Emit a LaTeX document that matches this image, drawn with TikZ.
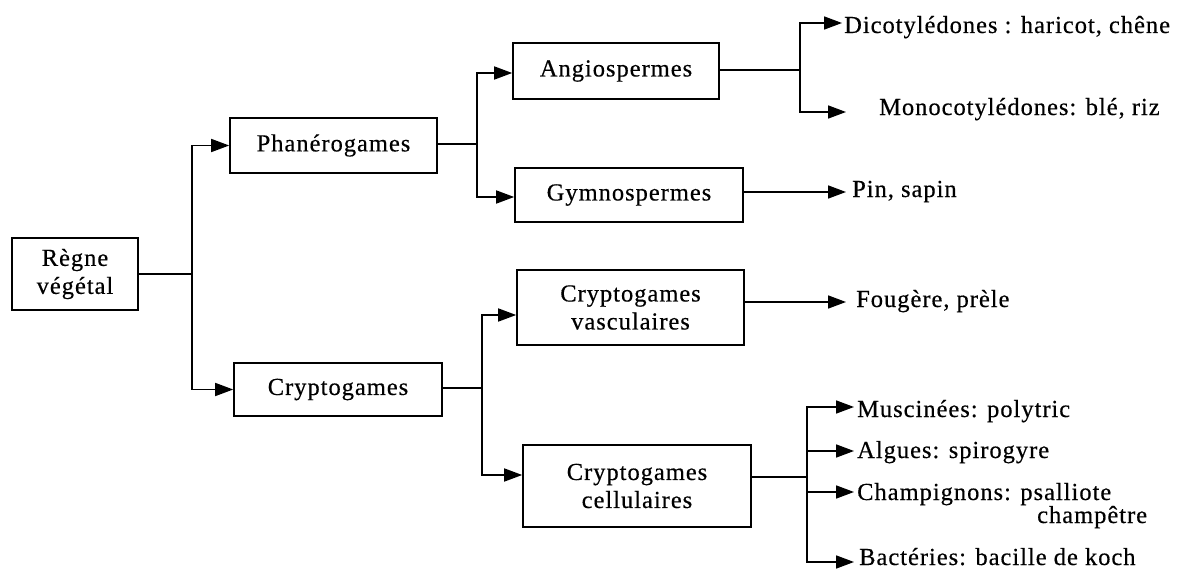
\documentclass[tikz,border=0pt]{standalone}
\usepackage{fontspec}
\setmainfont{Liberation Serif}[LetterSpace=4,FakeBold=0.4]
\usetikzlibrary{arrows.meta,calc}
\begin{document}
\begin{tikzpicture}[x=1pt,y=-1pt,
  box/.style={draw,line width=1.6pt,rectangle,inner sep=0pt,align=center,font=\fontsize{24.5}{28}\selectfont},
  lbl/.style={inner sep=0pt,anchor=base west,font=\fontsize{24.5}{28}\selectfont},
  conn/.style={line width=1.6pt},
  arr/.style={line width=1.6pt,-{Triangle[length=18pt,width=13pt]}}]
\useasboundingbox[fill=white] (0,0) rectangle (1179,586);

% boxes
\node[box,minimum width=126pt,minimum height=72pt] (regne) at (75,274) {Règne\\végétal};
\node[box,minimum width=207pt,minimum height=55pt] (phan) at (333.5,145.5) {Phanérogames};
\node[box,minimum width=208pt,minimum height=53pt] (crypt) at (338,389.5) {Cryptogames};
\node[box,minimum width=206pt,minimum height=56pt] (angio) at (616,71) {Angiospermes};
\node[box,minimum width=228pt,minimum height=54pt] (gymno) at (629,195) {Gymnospermes};
\node[box,minimum width=227pt,minimum height=75pt] (vasc) at (630.5,307.5) {Cryptogames\\vasculaires};
\node[box,minimum width=228pt,minimum height=82pt] (cell) at (637,486) {Cryptogames\\cellulaires};

% labels
\node[lbl] (dico) at (844,33) {Dicotylédones : haricot, chêne};
\node[lbl] (mono) at (879,115) {Monocotylédones: blé, riz};
\node[lbl] (pin) at (852,197) {Pin, sapin};
\node[lbl] (foug) at (856,307) {Fougère, prèle};
\node[lbl] (musc) at (857,417) {Muscinées: polytric};
\node[lbl] (alg) at (857,458) {Algues: spirogyre};
\node[lbl] (champ) at (857,500) {Champignons: psalliote};
\node[lbl] (champb) at (1037,523) {champêtre};
\node[lbl] (bact) at (859,565) {Bactéries: bacille de koch};

% junctions
\coordinate (j0) at (192,274);
\coordinate (j1) at (477,144);
\coordinate (j2) at (482,388);
\coordinate (j3) at (800,70);
\coordinate (j4) at (807,477);

% arrow tips
\coordinate (tdico) at ($(dico.base west)+(-2,-10)$);
\coordinate (tmono) at ($(mono.base west)+(-33,-3)$);
\coordinate (tpin) at ($(pin.base west)+(-6,-5)$);
\coordinate (tfoug) at ($(foug.base west)+(-10,-5)$);
\coordinate (tmusc) at ($(musc.base west)+(-3,-10)$);
\coordinate (talg) at ($(alg.base west)+(-3,-7)$);
\coordinate (tchamp) at ($(champ.base west)+(-3,-8)$);
\coordinate (tbact) at ($(bact.base west)+(-5,-3)$);

% connectors level 1
\draw[conn] (regne.east) -- (j0);
\draw[arr] (j0) |- (phan.west);
\draw[arr] (j0) |- (crypt.west);

% Phanerogames
\draw[conn] (phan.east |- j1) -- (j1);
\draw[arr] (j1) |- ($(angio.west)+(0,2)$);
\draw[arr] (j1) |- ($(gymno.west)+(0,2)$);

% Cryptogames
\draw[conn] (crypt.east |- j2) -- (j2);
\draw[arr] (j2) |- ($(vasc.west)+(0,7.5)$);
\draw[arr] (j2) |- ($(cell.west)+(0,-11)$);

% Angiospermes
\draw[conn] (angio.east |- j3) -- (j3);
\draw[arr] (j3) |- (tdico);
\draw[arr] (j3) |- (tmono);

% Gymnospermes
\draw[arr] (gymno.east |- tpin) -- (tpin);

% vasculaires
\draw[arr] (vasc.east |- tfoug) -- (tfoug);

% cellulaires
\draw[conn] (cell.east |- j4) -- (j4);
\draw[arr] (j4) |- (tmusc);
\draw[arr] (j4) |- (talg);
\draw[arr] (j4) |- (tchamp);
\draw[arr] (j4) |- (tbact);
\end{tikzpicture}
\end{document}
